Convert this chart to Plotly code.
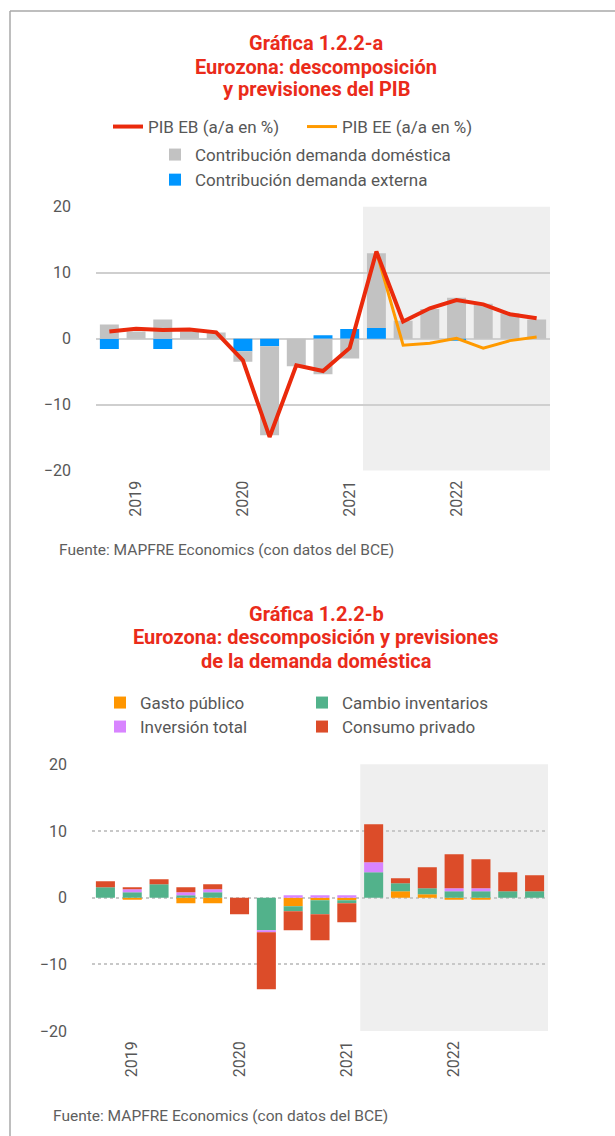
import plotly.graph_objects as go

# ---------------- data ----------------
quarters = ["IV-18", "I-19", "II-19", "III-19", "IV-19", "I-20", "II-20", "III-20", "IV-20",
            "I-21", "II-21", "III-21", "IV-21", "I-22", "II-22", "III-22", "IV-22"]
year_ticks = ["I-19", "I-20", "I-21", "I-22"]
year_labels = ["2019", "2020", "2021", "2022"]
y_ticks = [-20, -10, 0, 10, 20]

# Chart a (PIB)
pib_eb = [1.1, 1.5, 1.3, 1.4, 0.95, -3.3, -14.9, -4.05, -4.9, -1.4, 13.2, 2.6, 4.6, 5.85, 5.2, 3.7, 3.1]
pib_ee = [None, None, None, None, None, None, None, None, None, None,
          13.2, -1.0, -0.7, 0.05, -1.45, -0.3, 0.25]
dem_domestica = [2.15, 1.1, 2.9, 1.1, 0.95, -1.6, -13.5, -4.2, -5.4, -3.0, 11.35, 2.7, 4.5, 6.2, 5.3, 3.85, 2.9]
dem_externa = [-1.55, 0, -1.55, 0, 0, -1.9, -1.15, 0, 0.5, 1.45, 1.6, 0, 0, -0.3, 0, 0, 0]

# Chart b (demanda doméstica)
gasto_publico = [0, -0.3, 0, -0.85, -0.85, 0, 0, -1.3, -0.4, -0.4, 0, 0.95, 0.5, -0.3, -0.3, 0, 0]
cambio_inventarios = [1.55, 0.8, 2.0, 0.35, 0.8, 0, -4.9, -0.75, -2.1, -0.45, 3.8, 1.2, 0.9, 0.95, 0.95, 0.95, 0.95]
inversion_total = [0, 0.45, 0, 0.45, 0.45, 0, -0.3, 0.35, 0.35, 0.35, 1.5, 0, 0, 0.45, 0.45, 0, 0]
consumo_privado = [0.9, 0.3, 0.75, 0.75, 0.75, -2.5, -8.55, -2.85, -3.9, -2.85, 5.7, 0.75, 3.15, 5.1, 4.35, 2.85, 2.4]

title_a = ["Gráfica 1.2.2-a", "Eurozona: descomposición", "y previsiones del PIB"]
title_b = ["Gráfica 1.2.2-b", "Eurozona: descomposición y previsiones", "de la demanda doméstica"]
fuente = "Fuente: MAPFRE Economics (con datos del BCE)"

# ---------------- style ----------------
W, H = 615, 1136
FONT = "Roboto"
TXT = "#575757"
RED_T = "#EA2B1A"
GRID = "#CFCFCF"
SHADE = "#EFEFEF"


def px(x):
    return x / W


def py(y):
    return 1 - y / H


fig = go.Figure()

# chart a bars (external first so it sits next to zero)
fig.add_trace(go.Bar(x=quarters, y=dem_externa, name="Contribución demanda externa",
                     marker=dict(color="#0096FF", line_width=0), xaxis="x", yaxis="y",
                     legend="legend2", legendrank=2))
fig.add_trace(go.Bar(x=quarters, y=dem_domestica, name="Contribución demanda doméstica",
                     marker=dict(color="#C2C2C2", line_width=0), xaxis="x", yaxis="y",
                     legend="legend2", legendrank=1))
fig.add_trace(go.Scatter(x=quarters, y=pib_ee, name="PIB EE (a/a en %)", mode="lines",
                         line=dict(color="#FF9A00", width=3), xaxis="x", yaxis="y",
                         legend="legend", legendrank=2))
fig.add_trace(go.Scatter(x=quarters, y=pib_eb, name="PIB EB (a/a en %)", mode="lines",
                         line=dict(color="#EA2A0C", width=4), xaxis="x", yaxis="y",
                         legend="legend", legendrank=1))

# chart b bars (stack order: público, inventarios, inversión, consumo)
for vals, nm, col, lg in [(gasto_publico, "Gasto público", "#FF9600", "legend3"),
                          (cambio_inventarios, "Cambio inventarios", "#52B28B", "legend3"),
                          (inversion_total, "Inversión total", "#D884FF", "legend4"),
                          (consumo_privado, "Consumo privado", "#DC4C29", "legend4")]:
    fig.add_trace(go.Bar(x=quarters, y=vals, name=nm, marker=dict(color=col, line_width=0),
                         xaxis="x2", yaxis="y2", legend=lg))

xcommon = dict(type="category", categoryorder="array", categoryarray=quarters,
               range=[-0.5, 16.5], tickmode="array", tickvals=year_ticks, ticktext=year_labels,
               tickangle=-90, showgrid=False, zeroline=False, showline=False, ticks="",
               tickfont=dict(family=FONT, size=16, color=TXT), ticklabelstandoff=6)
ycommon = dict(range=[-20, 20], tickmode="array", tickvals=y_ticks, showline=False,
               zeroline=False, ticks="", tickfont=dict(family=FONT, size=16, color=TXT),
               ticklabelstandoff=24)

legfont = dict(family=FONT, size=17, color=TXT)
legbase = dict(xanchor="left", yanchor="middle", bgcolor="rgba(0,0,0,0)", font=legfont,
               traceorder="normal", itemclick=False, itemdoubleclick=False)
fig.update_layout(
    width=W, height=H, margin=dict(l=0, r=0, t=0, b=0, autoexpand=False),
    paper_bgcolor="white", plot_bgcolor="rgba(0,0,0,0)",
    barmode="relative", bargap=0.29,
    font=dict(family=FONT, color=TXT),
    xaxis=dict(xcommon, domain=[px(96), px(550)], anchor="y"),
    yaxis=dict(ycommon, domain=[py(470.6), py(206.7)], anchor="x",
               showgrid=True, gridcolor=GRID, gridwidth=1.5),
    xaxis2=dict(xcommon, domain=[px(92), px(548)], anchor="y2"),
    yaxis2=dict(ycommon, domain=[py(1031), py(764.3)], anchor="x2",
                showgrid=True, gridcolor="#C8C8C8", gridwidth=2, griddash="dot"),
    legend=dict(legbase, orientation="h", x=px(108), y=py(127), entrywidth=149),
    legend2=dict(legbase, orientation="v", x=px(155), y=py(167.5)),
    legend3=dict(legbase, orientation="h", x=px(100), y=py(703), entrywidth=157),
    legend4=dict(legbase, orientation="h", x=px(100), y=py(727), entrywidth=157),
)

shapes = [
    # forecast shading
    dict(type="rect", xref="x", yref="y domain", x0=9.5, x1=16.5, y0=0, y1=1,
         fillcolor=SHADE, line_width=0, layer="below"),
    dict(type="rect", xref="x2", yref="y2 domain", x0=9.5, x1=16.5, y0=0, y1=1,
         fillcolor=SHADE, line_width=0, layer="below"),
    # frame
    dict(type="line", xref="paper", yref="paper", x0=px(10), x1=1, y0=py(11), y1=py(11),
         line=dict(color="#A8A8A8", width=1.5)),
    dict(type="line", xref="paper", yref="paper", x0=px(10), x1=px(10), y0=py(11), y1=0,
         line=dict(color="#A8A8A8", width=1.5)),
]
fig.update_layout(shapes=shapes)

annotations = []
for txt, yy in zip(title_a, [43.5, 66.5, 89.5]):
    annotations.append(dict(text="<b>" + txt + "</b>", x=px(316), y=py(yy), xref="paper",
                            yref="paper", xanchor="center", yanchor="middle", showarrow=False,
                            font=dict(family=FONT, size=20, color=RED_T)))
for txt, yy in zip(title_b, [613.5, 637, 660.5]):
    annotations.append(dict(text="<b>" + txt + "</b>", x=px(316), y=py(yy), xref="paper",
                            yref="paper", xanchor="center", yanchor="middle", showarrow=False,
                            font=dict(family=FONT, size=20, color=RED_T)))
annotations += [
    dict(text=fuente, x=px(57), y=py(550), xref="paper", yref="paper", xanchor="left",
         yanchor="middle", showarrow=False, font=dict(family=FONT, size=15.5, color="#5E5E5E")),
    dict(text=fuente, x=px(51), y=py(1116), xref="paper", yref="paper", xanchor="left",
         yanchor="middle", showarrow=False, font=dict(family=FONT, size=15.5, color="#5E5E5E")),
]
fig.update_layout(annotations=annotations)

fig.write_html("out.html", config={"displayModeBar": False},
               post_script="document.body.style.margin='0';")
